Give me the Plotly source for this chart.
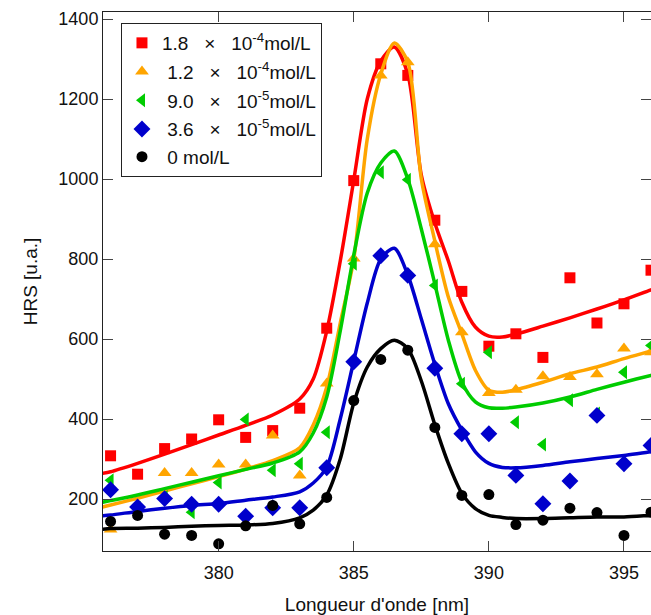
import plotly.graph_objects as go

# Measured wavelengths (nm)
wl = [376, 377, 378, 379, 380, 381, 382, 383, 384, 385, 386, 387, 388, 389, 390,
      391, 392, 393, 394, 395, 396]

red_pts = [308, 262, 326, 350, 398, 354, 371, 427, 627, 996, 1288, 1259, 897, 719, 582,
           613, 554, 753, 640, 688, 772]
orange_pts = [124, 185, 265, 265, 286, 286, 359, 259, 489, 801, 1259, 1292, 837, 617, 465,
              473, 507, 505, 512, 576, 567]
green_pts = [247, 178, 205, 167, 241, 399, 272, 288, 367, 788, 1017, 998, 734, 488, 567,
             392, 336, 447, 414, 517, 584]
blue_pts = [223, 180, 201, 187, 187, 157, 178, 178, 278, 543, 808, 759, 527, 363, 363,
            259, 188, 245, 409, 288, 334]
black_pts = [144, 159, 112, 109, 88, 133, 184, 138, 204, 446, 549, 572, 379, 209, 211,
             136, 147, 177, 166, 109, 167]

# Fitted curves
wl_fit = [375.7, 376, 377, 378, 379, 380, 381, 382, 383, 383.5, 384, 384.5, 385, 385.5,
          386, 386.5, 387, 387.5, 388, 388.5, 389, 389.5, 390, 390.5, 391, 392, 393, 394,
          395, 396, 396.3]
red_fit = [264, 268, 289, 312, 336, 360, 384, 410, 450, 500, 620, 795, 997, 1200,
           1295, 1330, 1262, 1010, 890, 795, 692, 630, 607, 605, 612, 632, 653, 675, 698, 723, 730]
orange_fit = [180, 185, 202, 220, 238, 256, 275, 296, 328, 385, 480, 640, 800, 1100,
              1262, 1340, 1292, 1000, 845, 705, 613, 522, 472, 467, 473, 492, 513, 530, 551, 570, 576]
green_fit = [192, 196, 210, 226, 242, 258, 274, 290, 318, 365, 455, 620, 810, 965,
             1040, 1070, 1000, 875, 738, 597, 492, 443, 428, 427, 430, 440, 455, 474, 492, 509, 514]
blue_fit = [158, 160, 169, 177, 184, 189, 197, 205, 218, 240, 280, 400, 545, 690,
            800, 827, 760, 650, 537, 438, 372, 318, 289, 279, 278, 284, 293, 301, 309, 318, 320]
black_fit = [124, 126, 127, 129, 132, 134, 135, 139, 153, 172, 210, 300, 440, 530,
             576, 597, 576, 495, 386, 289, 214, 176, 159, 154, 151, 151, 153, 155, 155, 159, 160]

sp = "\u00a0\u00a0\u00a0"
labels = ["1.8" + sp + "\u00d7" + sp + "10<sup>-4</sup>mol/L",
          "\u00a01.2" + sp + "\u00d7" + sp + "10<sup>-4</sup>mol/L",
          "\u00a09.0" + sp + "\u00d7" + sp + "10<sup>-5</sup>mol/L",
          "\u00a03.6" + sp + "\u00d7" + sp + "10<sup>-5</sup>mol/L",
          "\u00a00 mol/L"]
groups = ["g0", "g1", "g2", "g3", "g3"]
colors = ["#FF0000", "#FFA500", "#00CC00", "#0000CC", "#000000"]
symbols = ["square", "triangle-up", "triangle-left", "diamond", "circle"]
sizes = [11, 12, 12, 13, 11]
pts = [red_pts, orange_pts, green_pts, blue_pts, black_pts]
fits = [red_fit, orange_fit, green_fit, blue_fit, black_fit]

fig = go.Figure()
for lab, g, c, s, sz, p, f in zip(labels, groups, colors, symbols, sizes, pts, fits):
    fig.add_trace(go.Scatter(x=wl, y=p, mode="markers", name=lab, legendgroup=g,
                             marker=dict(symbol=s, size=sz, color=c, line=dict(width=0))))
    fig.add_trace(go.Scatter(x=wl_fit, y=f, mode="lines", showlegend=False,
                             legendgroup=g,
                             line=dict(color=c, width=3.5, shape="spline", smoothing=0.8)))

font = "Liberation Sans, Arial, sans-serif"
fig.update_layout(
    width=651, height=615,
    margin=dict(l=103, r=0, t=12, b=64),
    paper_bgcolor="white", plot_bgcolor="white",
    font=dict(family=font, size=18, color="#111"),
    showlegend=True,
    legend=dict(x=0.0328, y=0.9796, xanchor="left", yanchor="top",
                bgcolor="white", bordercolor="#222", borderwidth=1,
                font=dict(family=font, size=19, color="#111"),
                tracegroupgap=1),
    xaxis=dict(range=[375.72, 396.0], tickvals=[380, 385, 390, 395],
               ticks="inside", ticklen=10, tickcolor="#444", showline=True,
               linecolor="#222", linewidth=1, mirror="ticks", showgrid=False,
               zeroline=False, automargin=False, ticklabelstandoff=5,
               title=dict(text="Longueur d'onde [nm]", standoff=16, font=dict(size=19)),
               tickfont=dict(size=18)),
    yaxis=dict(range=[70, 1417.5], tickvals=[200, 400, 600, 800, 1000, 1200, 1400],
               ticks="inside", ticklen=10, tickcolor="#444", showline=True,
               linecolor="#222", linewidth=1, mirror="ticks", showgrid=False,
               zeroline=False, automargin=False,
               title=dict(text="HRS [u.a.]", standoff=15, font=dict(size=19)),
               tickfont=dict(size=18)),
)

# Remove the default page margin so the 651x615 figure fills the window exactly.
fig.write_html(
    "out.html",
    config={"displayModeBar": False},
    post_script="document.body.style.margin='0';"
                "document.documentElement.style.overflow='hidden';"
                "document.body.style.overflow='hidden';",
)
